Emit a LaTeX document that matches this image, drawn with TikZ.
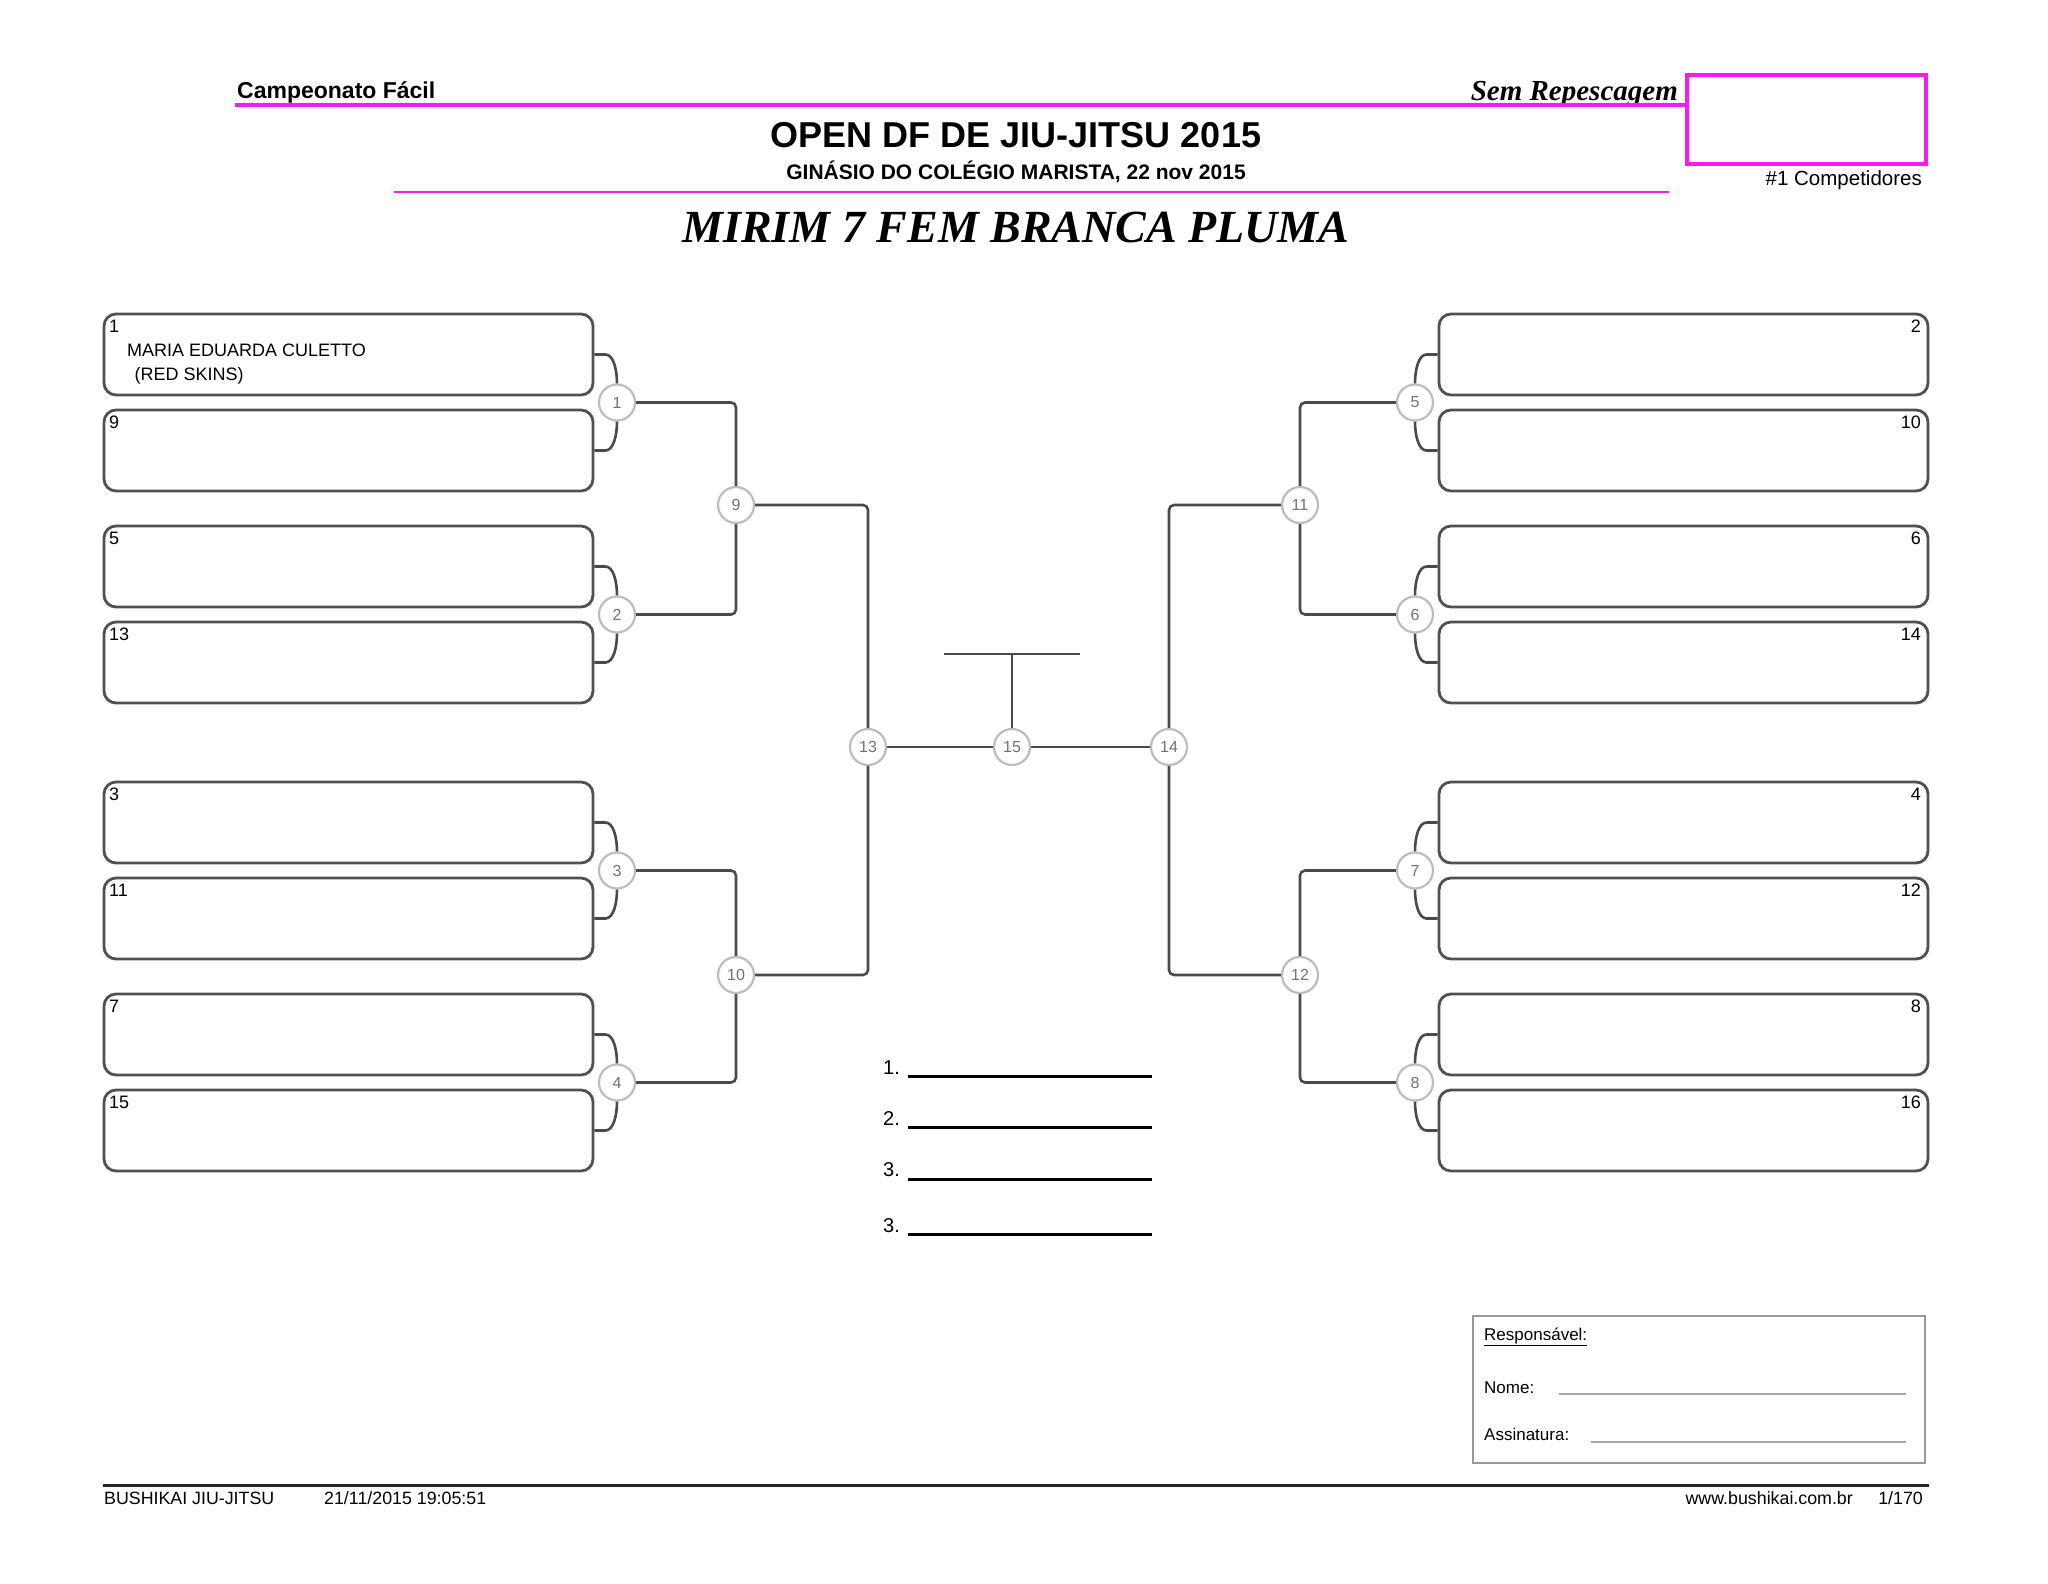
\documentclass[tikz,border=0pt]{standalone}
\usepackage{fontspec}
\setmainfont{Liberation Sans}
\newfontfamily\serifft{Liberation Serif}
\usepackage{tikz}
\usetikzlibrary{calc}
\definecolor{hdrpink}{HTML}{F21DF0}
\definecolor{boxgray}{HTML}{505050}
\definecolor{linegray}{HTML}{4A4A4A}
\definecolor{ringgray}{HTML}{BDBDBD}
\definecolor{numgray}{HTML}{727272}
\newcommand\fsz[1]{\fontsize{#1}{#1}\selectfont}

\begin{document}
\begin{tikzpicture}[x=1pt,y=-1pt,every node/.append style={inner sep=0pt},
  pbox/.style={draw=boxgray,line width=2.8pt,rounded corners=12pt,minimum width=489pt,minimum height=81pt,inner sep=0pt},
  mt/.style={circle,draw=ringgray,line width=2.2pt,fill=white,minimum size=36pt,inner sep=0pt,text=numgray,font=\fsz{16}},
  conn/.style={draw=linegray,line width=2.6pt},
  seed/.style={font=\fsz{18}}]
\useasboundingbox (0,0) rectangle (2048,1583);
% header
\node[anchor=base west,font=\bfseries\fsz{23}] (camp) at (237,98) {Campeonato Fácil};
\node[anchor=base east,font=\serifft\bfseries\itshape\fsz{29}] (rep) at (1678,100) {Sem Repescagem};
\draw[hdrpink,line width=4pt] (235,105)--(1685,105); \draw[hdrpink,line width=4pt] (1687,75) rectangle (1926,164);
\node[anchor=base east,font=\fsz{20.5}] (comp) at (1922,185) {\#1 Competidores};
\node[anchor=base,font=\bfseries\fsz{36}] (open) at (1016,147) {OPEN DF DE JIU-JITSU 2015};
\node[anchor=base,font=\bfseries\fsz{21}] (gin) at (1016,179) {GINÁSIO DO COLÉGIO MARISTA, 22 nov 2015};
\draw[hdrpink,line width=2.5pt] (394,192)--(1669,192);
\node[anchor=base,font=\serifft\bfseries\itshape\fsz{46}] (cat) at (1016,242) {MIRIM 7 FEM BRANCA PLUMA};
% left boxes
\node[pbox] (b1) at (348.5,354.5) {}; \node[pbox] (b9) at (348.5,450.5) {};
\node[pbox] (b5) at (348.5,566.5) {}; \node[pbox] (b13) at (348.5,662.5) {};
\node[pbox] (b3) at (348.5,822.5) {}; \node[pbox] (b11) at (348.5,918.5) {};
\node[pbox] (b7) at (348.5,1034.5) {}; \node[pbox] (b15) at (348.5,1130.5) {};
\node[seed,anchor=base west] (s1) at (109,332) {1}; \node[seed,anchor=base west] (s9) at (109,428) {9};
\node[seed,anchor=base west] (s5) at (109,544) {5}; \node[seed,anchor=base west] (s13) at (109,640) {13};
\node[seed,anchor=base west] (s3) at (109,800) {3}; \node[seed,anchor=base west] (s11) at (109,896) {11};
\node[seed,anchor=base west] (s7) at (109,1012) {7}; \node[seed,anchor=base west] (s15) at (109,1108) {15};
\node[seed,anchor=base west] (nm1) at (127,356.5) {MARIA EDUARDA CULETTO};
\node[seed,anchor=base west] (cl1) at (134.5,380.5) {(RED SKINS)};
% right boxes
\node[pbox] (b2) at (1683.5,354.5) {}; \node[pbox] (b10) at (1683.5,450.5) {};
\node[pbox] (b6) at (1683.5,566.5) {}; \node[pbox] (b14) at (1683.5,662.5) {};
\node[pbox] (b4) at (1683.5,822.5) {}; \node[pbox] (b12) at (1683.5,918.5) {};
\node[pbox] (b8) at (1683.5,1034.5) {}; \node[pbox] (b16) at (1683.5,1130.5) {};
\node[seed,anchor=base east] (s2) at (1921,332) {2}; \node[seed,anchor=base east] (s10) at (1921,428) {10};
\node[seed,anchor=base east] (s6) at (1921,544) {6}; \node[seed,anchor=base east] (s14) at (1921,640) {14};
\node[seed,anchor=base east] (s4) at (1921,800) {4}; \node[seed,anchor=base east] (s12) at (1921,896) {12};
\node[seed,anchor=base east] (s8) at (1921,1012) {8}; \node[seed,anchor=base east] (s16) at (1921,1108) {16};
% matches
\node[mt] (m1) at (617,402.5) {1}; \node[mt] (m2) at (617,614.5) {2};
\node[mt] (m3) at (617,870.5) {3}; \node[mt] (m4) at (617,1082.5) {4};
\node[mt] (m5) at (1415,402.5) {5}; \node[mt] (m6) at (1415,614.5) {6};
\node[mt] (m7) at (1415,870.5) {7}; \node[mt] (m8) at (1415,1082.5) {8};
\node[mt] (m9) at (736,505) {9}; \node[mt] (m10) at (736,975) {10};
\node[mt] (m11) at (1300,505) {11}; \node[mt] (m12) at (1300,975) {12};
\node[mt] (m13) at (868,747) {13}; \node[mt] (m14) at (1169,747) {14};
\node[mt] (m15) at (1012,747) {15};
% braces box -> match
\draw[conn] (b1.east) -- ++(11,0) .. controls +(8,0) and +(0,-14) .. (m1.north); \draw[conn] (b9.east) -- ++(11,0) .. controls +(8,0) and +(0,14) .. (m1.south);
\draw[conn] (b5.east) -- ++(11,0) .. controls +(8,0) and +(0,-14) .. (m2.north); \draw[conn] (b13.east) -- ++(11,0) .. controls +(8,0) and +(0,14) .. (m2.south);
\draw[conn] (b3.east) -- ++(11,0) .. controls +(8,0) and +(0,-14) .. (m3.north); \draw[conn] (b11.east) -- ++(11,0) .. controls +(8,0) and +(0,14) .. (m3.south);
\draw[conn] (b7.east) -- ++(11,0) .. controls +(8,0) and +(0,-14) .. (m4.north); \draw[conn] (b15.east) -- ++(11,0) .. controls +(8,0) and +(0,14) .. (m4.south);
\draw[conn] (b2.west) -- ++(-11,0) .. controls +(-8,0) and +(0,-14) .. (m5.north); \draw[conn] (b10.west) -- ++(-11,0) .. controls +(-8,0) and +(0,14) .. (m5.south);
\draw[conn] (b6.west) -- ++(-11,0) .. controls +(-8,0) and +(0,-14) .. (m6.north); \draw[conn] (b14.west) -- ++(-11,0) .. controls +(-8,0) and +(0,14) .. (m6.south);
\draw[conn] (b4.west) -- ++(-11,0) .. controls +(-8,0) and +(0,-14) .. (m7.north); \draw[conn] (b12.west) -- ++(-11,0) .. controls +(-8,0) and +(0,14) .. (m7.south);
\draw[conn] (b8.west) -- ++(-11,0) .. controls +(-8,0) and +(0,-14) .. (m8.north); \draw[conn] (b16.west) -- ++(-11,0) .. controls +(-8,0) and +(0,14) .. (m8.south);
% bracket lines
\draw[conn,rounded corners=5pt] (m1.east) -| (m9.north); \draw[conn,rounded corners=5pt] (m2.east) -| (m9.south);
\draw[conn,rounded corners=5pt] (m3.east) -| (m10.north); \draw[conn,rounded corners=5pt] (m4.east) -| (m10.south);
\draw[conn,rounded corners=5pt] (m9.east) -| (m13.north); \draw[conn,rounded corners=5pt] (m10.east) -| (m13.south);
\draw[conn,rounded corners=5pt] (m5.west) -| (m11.north); \draw[conn,rounded corners=5pt] (m6.west) -| (m11.south);
\draw[conn,rounded corners=5pt] (m7.west) -| (m12.north); \draw[conn,rounded corners=5pt] (m8.west) -| (m12.south);
\draw[conn,rounded corners=5pt] (m11.west) -| (m14.north); \draw[conn,rounded corners=5pt] (m12.west) -| (m14.south);
\draw[conn] (m13.east) -- (m15.west); \draw[conn] (m15.east) -- (m14.west);
\coordinate (tl) at (944,654); \coordinate (tr) at (1080,654);
\draw[conn] (tl) -- (tr); \draw[conn] (m15.north) -- (m15.north |- tl);
% podium
\node[anchor=base west,font=\fsz{20}] (p1) at (883,1074) {1.}; \draw[line width=3pt] (908,1076.5)--(1152,1076.5);
\node[anchor=base west,font=\fsz{20}] (p2) at (883,1125) {2.}; \draw[line width=3pt] (908,1127.5)--(1152,1127.5);
\node[anchor=base west,font=\fsz{20}] (p3) at (883,1176) {3.}; \draw[line width=3pt] (908,1179)--(1152,1179);
\node[anchor=base west,font=\fsz{20}] (p4) at (883,1232) {3.}; \draw[line width=3pt] (908,1234)--(1152,1234);
% responsible
\draw[gray!80,line width=1.2pt] (1473,1316) rectangle (1925,1463);
\node[anchor=base west,font=\fsz{17}] (resp) at (1484,1340) {\underline{Responsável:}};
\node[anchor=base west,font=\fsz{17}] (nome) at (1484,1393) {Nome:}; \draw[gray!70,line width=1.5pt] (1559,1394)--(1906,1394);
\node[anchor=base west,font=\fsz{17}] (assin) at (1484,1440) {Assinatura:}; \draw[gray!70,line width=1.5pt] (1591,1442)--(1906,1442);
% footer
\draw[black!85,line width=3pt] (103,1485)--(1929,1485);
\node[anchor=base west,font=\fsz{17.8}] (org) at (104,1504) {BUSHIKAI JIU-JITSU};
\node[anchor=base west,font=\fsz{17.8}] (date) at (324,1504) {21/11/2015 19:05:51};
\node[anchor=base east,font=\fsz{17.8}] (web) at (1853,1504) {www.bushikai.com.br};
\node[anchor=base east,font=\fsz{17.8}] (page) at (1923,1504) {1/170};
\end{tikzpicture}
\end{document}
